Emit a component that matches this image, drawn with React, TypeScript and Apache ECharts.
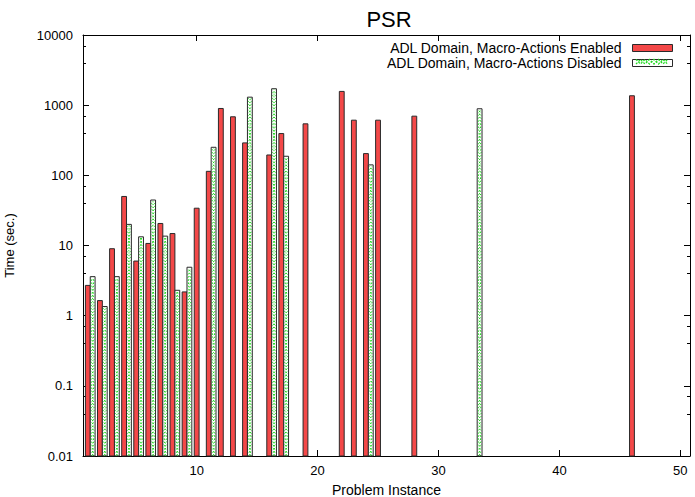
import React, { useEffect, useRef } from "react";
import * as echarts from "echarts";

const instances = [1, 2, 3, 4, 5, 6, 7, 8, 9, 10, 11, 12, 13, 14, 16, 17, 19, 22, 23, 24, 25, 28, 33, 46];
const enabledTimes = [2.7, 1.64, 9.0, 50, 6.0, 10.7, 20.6, 14.8, 2.18, 34, 114, 897, 683, 290, 195, 394, 542, 1570, 611, 204, 611, 697, null, 1362];
const disabledTimes = [3.6, 1.35, 3.6, 20, 13.3, 44.5, 13.6, 2.3, 4.9, null, 251, null, null, 1300, 1715, 187, null, null, null, 141, null, null, 889, null];
const seriesNames = ["ADL Domain, Macro-Actions Enabled", "ADL Domain, Macro-Actions Disabled"];
const titleText = "PSR";
const xName = "Problem Instance";
const yName = "Time (sec.)";

const Y_MIN = 0.01;
const Y_MAX = 10000;
const X_MIN = 0.6;
const X_MAX = 50.8;

const FONT = "'Liberation Sans', Arial, Helvetica, sans-serif";
const RED = "#f34848";
const GREEN = "#22dd22";
const EDGE = "#2a2a2a";

function zigzag(l: number, r: number, top: number, bottom: number, startLeft: boolean) {
  const w = r - l;
  const pts: number[][] = [[startLeft ? l : r, bottom]];
  if (w <= 0) return pts;
  let y = bottom;
  let atLeft = startLeft;
  let guard = 0;
  while (y > top && guard < 2000) {
    guard++;
    const ny = y - w;
    const nx = atLeft ? r : l;
    if (ny <= top) {
      const t = (y - top) / w;
      const cx = atLeft ? l + t * w : r - t * w;
      pts.push([cx, top]);
      break;
    }
    pts.push([nx, ny]);
    y = ny;
    atLeft = !atLeft;
  }
  return pts;
}

function hzigzag(l: number, r: number, top: number, bottom: number, startTop: boolean) {
  const h = bottom - top;
  const pts: number[][] = [];
  let atTop = startTop;
  for (let x = l; x <= r + 0.01; x += h) {
    pts.push([x, atTop ? top : bottom]);
    atTop = !atTop;
  }
  return pts;
}

function fmtY(v: number) {
  const e = Math.round(Math.log10(v));
  return e >= 0 ? String(Math.pow(10, e)) : Math.pow(10, e).toFixed(-e);
}

export default function App() {
  const ref = useRef<HTMLDivElement>(null);
  useEffect(() => {
    document.body.style.margin = "0";
    if (!ref.current) return;
    const chart = echarts.init(ref.current, undefined, { renderer: "svg" });

    const enabledData = instances
      .map((x, i) => [x, enabledTimes[i]])
      .filter((d) => d[1] != null);
    const disabledData = instances
      .map((x, i) => [x, disabledTimes[i]])
      .filter((d) => d[1] != null);

    const axisLine = { show: true, lineStyle: { color: "#000", width: 1 } };
    const patternStyle = { stroke: GREEN, lineWidth: 1, fill: null, lineDash: [2.5, 2] };

    const option: any = {
      animation: false,
      backgroundColor: "#fff",
      title: {
        text: titleText,
        left: 384,
        top: 3,
        textAlign: "center",
        textStyle: { fontFamily: FONT, fontSize: 22, fontWeight: "normal", color: "#000" },
      },
      legend: {
        orient: "vertical",
        right: 22,
        top: 41,
        padding: 0,
        itemGap: 1,
        itemWidth: 40,
        itemHeight: 7,
        align: "right",
        selectedMode: false,
        textStyle: { fontFamily: FONT, fontSize: 14, color: "#000", padding: [0, 6, 0, 0] },
        data: [
          { name: seriesNames[0], icon: "rect", itemStyle: { color: RED, borderColor: EDGE, borderWidth: 1 } },
          { name: seriesNames[1], icon: "rect", itemStyle: { color: "#fff", borderColor: EDGE, borderWidth: 1 } },
        ],
      },
      grid: { left: 83, right: 5, top: 35, bottom: 41, containLabel: false, outerBoundsMode: "none" },
      xAxis: [
        {
          type: "value",
          min: X_MIN,
          max: X_MAX,
          splitNumber: 5,
          name: xName,
          nameLocation: "middle",
          nameGap: 27,
          nameTextStyle: { fontFamily: FONT, fontSize: 14, color: "#000" },
          axisLine,
          axisTick: { show: true, inside: true, length: 6, lineStyle: { color: "#000" } },
          axisLabel: {
            fontFamily: FONT,
            fontSize: 13,
            color: "#000",
            margin: 8,
            showMinLabel: false,
            showMaxLabel: false,
            formatter: (v: number) => String(Math.round(v)),
          },
          splitLine: { show: false },
        },
        {
          type: "value",
          position: "top",
          min: X_MIN,
          max: X_MAX,
          splitNumber: 5,
          axisLine,
          axisTick: { show: true, inside: true, length: 6, lineStyle: { color: "#000" } },
          axisLabel: { show: false },
          splitLine: { show: false },
        },
      ],
      yAxis: [
        {
          type: "log",
          logBase: 10,
          min: Y_MIN,
          max: Y_MAX,
          splitNumber: 6,
          name: yName,
          nameLocation: "middle",
          nameGap: 67,
          nameRotate: 90,
          nameTextStyle: { fontFamily: FONT, fontSize: 13, color: "#000" },
          axisLine,
          axisTick: { show: true, inside: true, length: 6, lineStyle: { color: "#000" } },
          minorTick: { show: true, splitNumber: 3, length: 3, lineStyle: { color: "#000" } },
          axisLabel: { fontFamily: FONT, fontSize: 13, color: "#000", margin: 10, formatter: fmtY },
          splitLine: { show: false },
          minorSplitLine: { show: false },
        },
        {
          type: "log",
          logBase: 10,
          position: "right",
          min: Y_MIN,
          max: Y_MAX,
          splitNumber: 6,
          axisLine,
          axisTick: { show: true, inside: true, length: 6, lineStyle: { color: "#000" } },
          minorTick: { show: true, splitNumber: 3, length: 3, lineStyle: { color: "#000" } },
          axisLabel: { show: false },
          splitLine: { show: false },
          minorSplitLine: { show: false },
        },
      ],
      graphic: {
        elements: [
          {
            type: "polyline",
            z: 200,
            silent: true,
            shape: { points: hzigzag(636, 670, 59.5, 64, true) },
            style: { stroke: GREEN, lineWidth: 1.3, fill: null, lineDash: [2, 1.5] },
          },
          {
            type: "polyline",
            z: 200,
            silent: true,
            shape: { points: hzigzag(636, 670, 59.5, 64, false) },
            style: { stroke: GREEN, lineWidth: 1.3, fill: null, lineDash: [2, 1.5] },
          },
        ],
      },
      series: [
        {
          name: seriesNames[0],
          type: "custom",
          xAxisIndex: 0,
          yAxisIndex: 0,
          itemStyle: { color: RED, borderColor: EDGE },
          data: enabledData,
          renderItem: (params: any, api: any) => {
            const x = api.value(0);
            const y = api.value(1);
            const p1 = api.coord([x - 0.2, y]);
            const p2 = api.coord([x + 0.2, Y_MIN]);
            return {
              type: "rect",
              shape: { x: p1[0], y: p1[1], width: p2[0] - p1[0], height: p2[1] - p1[1] },
              style: { fill: RED, stroke: EDGE, lineWidth: 1 },
            };
          },
        },
        {
          name: seriesNames[1],
          type: "custom",
          xAxisIndex: 0,
          yAxisIndex: 0,
          itemStyle: { color: "#fff", borderColor: EDGE },
          data: disabledData,
          renderItem: (params: any, api: any) => {
            const x = api.value(0);
            const y = api.value(1);
            const p1 = api.coord([x + 0.2, y]);
            const p2 = api.coord([x + 0.6, Y_MIN]);
            const l = p1[0] + 1;
            const r = p2[0] - 1;
            const top = p1[1] + 1;
            const bottom = p2[1];
            return {
              type: "group",
              children: [
                {
                  type: "rect",
                  shape: { x: p1[0], y: p1[1], width: p2[0] - p1[0], height: p2[1] - p1[1] },
                  style: { fill: "#fff", stroke: null },
                },
                {
                  type: "polyline",
                  shape: { points: zigzag(l, r, top, bottom, true) },
                  style: patternStyle,
                },
                {
                  type: "polyline",
                  shape: { points: zigzag(l, r, top, bottom, false) },
                  style: patternStyle,
                },
                {
                  type: "rect",
                  shape: { x: p1[0], y: p1[1], width: p2[0] - p1[0], height: p2[1] - p1[1] },
                  style: { fill: null, stroke: EDGE, lineWidth: 1 },
                },
              ],
            };
          },
        },
      ],
    };
    chart.setOption(option);
    return () => chart.dispose();
  }, []);
  return <div ref={ref} style={{ position: "absolute", left: 0, top: 0, width: 695, height: 497 }} />;
}
